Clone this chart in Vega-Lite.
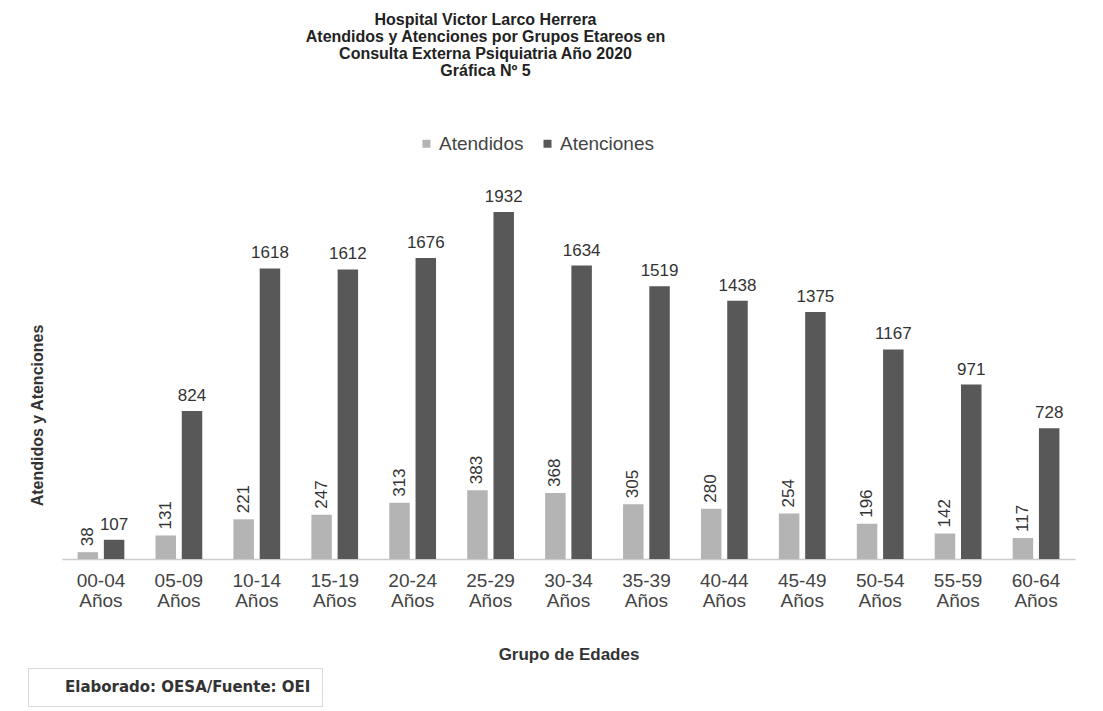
{
  "$schema": "https://vega.github.io/schema/vega-lite/v6.json",
  "width": 1013,
  "height": 389,
  "autosize": "none",
  "padding": {"left": 62, "top": 170, "right": 28, "bottom": 152},
  "background": "white",
  "config": {
    "view": {"stroke": null},
    "font": "Liberation Sans"
  },
  "title": {
    "text": ["Hospital Victor Larco Herrera", "Atendidos y Atenciones por Grupos Etareos en", "Consulta Externa Psiquiatria Año 2020", "Gráfica Nº 5"],
    "anchor": "middle",
    "frame": "group",
    "dx": -83,
    "fontSize": 16,
    "fontWeight": "bold",
    "color": "#222",
    "lineHeight": 17,
    "offset": 55
  },
  "layer": [
    {
      "data": {
        "values": [
          {"grupo": "00-04 Años", "serie": "Atendidos", "valor": 38},
          {"grupo": "00-04 Años", "serie": "Atenciones", "valor": 107},
          {"grupo": "05-09 Años", "serie": "Atendidos", "valor": 131},
          {"grupo": "05-09 Años", "serie": "Atenciones", "valor": 824},
          {"grupo": "10-14 Años", "serie": "Atendidos", "valor": 221},
          {"grupo": "10-14 Años", "serie": "Atenciones", "valor": 1618},
          {"grupo": "15-19 Años", "serie": "Atendidos", "valor": 247},
          {"grupo": "15-19 Años", "serie": "Atenciones", "valor": 1612},
          {"grupo": "20-24 Años", "serie": "Atendidos", "valor": 313},
          {"grupo": "20-24 Años", "serie": "Atenciones", "valor": 1676},
          {"grupo": "25-29 Años", "serie": "Atendidos", "valor": 383},
          {"grupo": "25-29 Años", "serie": "Atenciones", "valor": 1932},
          {"grupo": "30-34 Años", "serie": "Atendidos", "valor": 368},
          {"grupo": "30-34 Años", "serie": "Atenciones", "valor": 1634},
          {"grupo": "35-39 Años", "serie": "Atendidos", "valor": 305},
          {"grupo": "35-39 Años", "serie": "Atenciones", "valor": 1519},
          {"grupo": "40-44 Años", "serie": "Atendidos", "valor": 280},
          {"grupo": "40-44 Años", "serie": "Atenciones", "valor": 1438},
          {"grupo": "45-49 Años", "serie": "Atendidos", "valor": 254},
          {"grupo": "45-49 Años", "serie": "Atenciones", "valor": 1375},
          {"grupo": "50-54 Años", "serie": "Atendidos", "valor": 196},
          {"grupo": "50-54 Años", "serie": "Atenciones", "valor": 1167},
          {"grupo": "55-59 Años", "serie": "Atendidos", "valor": 142},
          {"grupo": "55-59 Años", "serie": "Atenciones", "valor": 971},
          {"grupo": "60-64 Años", "serie": "Atendidos", "valor": 117},
          {"grupo": "60-64 Años", "serie": "Atenciones", "valor": 728}
        ]
      },
      "encoding": {
        "x": {
          "field": "grupo",
          "type": "nominal",
          "sort": null,
          "scale": {"paddingInner": 0.4, "paddingOuter": 0.2},
          "axis": {
            "title": "Grupo de Edades",
            "titleFontSize": 17,
            "titleFontWeight": "bold",
            "titleColor": "#333",
            "titlePadding": 36,
            "labelAngle": 0,
            "labelExpr": "split(datum.label, ' ')",
            "labelFontSize": 19,
            "labelColor": "#444",
            "labelLineHeight": 20,
            "labelPadding": 12,
            "ticks": false,
            "domainColor": "#cccccc",
            "domainWidth": 1.5
          }
        },
        "xOffset": {
          "field": "serie",
          "type": "nominal",
          "sort": ["Atendidos", "Atenciones"],
          "scale": {"paddingInner": 0.22}
        },
        "y": {
          "field": "valor",
          "type": "quantitative",
          "scale": {"domain": [0, 2166], "nice": false},
          "axis": {
            "title": "Atendidos y Atenciones",
            "titleFontSize": 16,
            "titleFontWeight": "bold",
            "titleColor": "#333",
            "titleX": -17,
            "titleY": 245,
            "labels": false,
            "ticks": false,
            "domain": false,
            "grid": false
          }
        }
      },
      "layer": [
        {
          "mark": {"type": "bar"},
          "encoding": {
            "color": {
              "field": "serie",
              "type": "nominal",
              "sort": ["Atendidos", "Atenciones"],
              "scale": {"domain": ["Atendidos", "Atenciones"], "range": ["#b4b4b4", "#585858"]},
              "legend": {
                "title": null,
                "orient": "none",
                "direction": "horizontal",
                "legendX": 355,
                "legendY": -36,
                "symbolType": "square",
                "symbolSize": 64,
                "labelFontSize": 19,
                "labelColor": "#444",
                "columnPadding": 14,
                "labelOffset": 3
              }
            }
          }
        },
        {
          "transform": [{"filter": "datum.serie == 'Atenciones'"}],
          "mark": {"type": "text", "baseline": "bottom", "dy": -6, "fontSize": 17, "color": "#333"},
          "encoding": {"text": {"field": "valor", "type": "quantitative"}}
        },
        {
          "transform": [{"filter": "datum.serie == 'Atendidos'"}],
          "mark": {"type": "text", "angle": 270, "align": "left", "baseline": "middle", "dx": 6, "fontSize": 17, "color": "#333"},
          "encoding": {"text": {"field": "valor", "type": "quantitative"}}
        }
      ]
    },
    {
      "data": {"values": [{"fuente": "Elaborado: OESA/Fuente: OEI"}]},
      "mark": {"type": "rule", "opacity": 0},
      "encoding": {
        "strokeDash": {
          "field": "fuente",
          "type": "nominal",
          "legend": {
            "title": null,
            "orient": "none",
            "legendX": -34,
            "legendY": 498,
            "symbolOpacity": 0,
            "symbolStrokeWidth": 0,
            "symbolSize": 1,
            "labelFontSize": 15,
            "labelFont": "DejaVu Sans",
            "labelFontWeight": "bold",
            "labelColor": "#333",
            "labelOffset": 11,
            "labelExpr": "datum.label + '\u00a0\u00a0\u00a0\u00a0\u00a0\u00a0\u00a0\u00a0'",
            "strokeColor": "#d8d8d8",
            "padding": 11,
            "labelLimit": 400
          }
        }
      }
    }
  ],
  "resolve": {"legend": {"strokeDash": "independent"}}
}
